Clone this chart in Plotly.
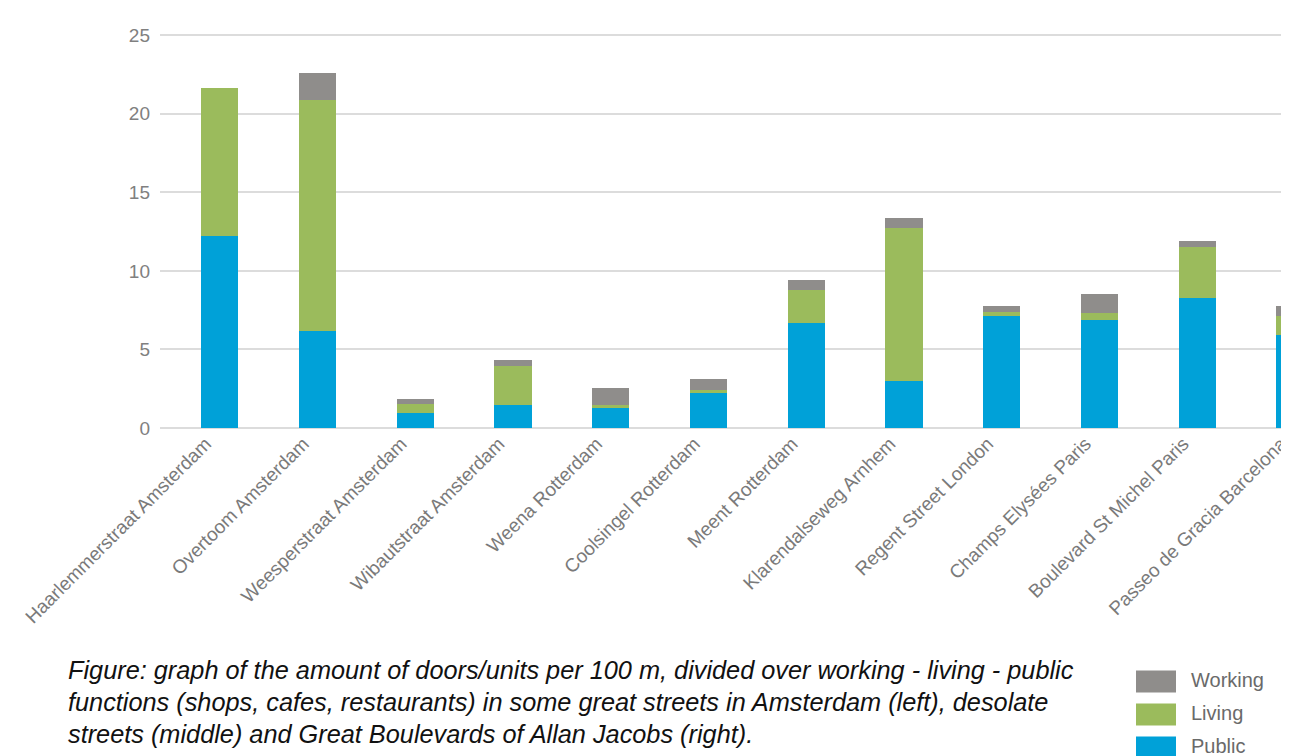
import plotly.graph_objects as go

streets = [
    "Haarlemmerstraat Amsterdam",
    "Overtoom Amsterdam",
    "Weesperstraat Amsterdam",
    "Wibautstraat Amsterdam",
    "Weena Rotterdam",
    "Coolsingel Rotterdam",
    "Meent Rotterdam",
    "Klarendalseweg Arnhem",
    "Regent Street London",
    "Champs Elysées Paris",
    "Boulevard St Michel Paris",
    "Passeo de Gracia Barcelona",
]
public = [12.25, 6.2, 0.95, 1.45, 1.3, 2.25, 6.7, 3.0, 7.1, 6.9, 8.25, 5.95]
living = [9.4, 14.7, 0.6, 2.5, 0.15, 0.15, 2.1, 9.75, 0.3, 0.45, 3.25, 1.2]
working = [0.0, 1.7, 0.3, 0.4, 1.1, 0.75, 0.6, 0.6, 0.35, 1.15, 0.4, 0.6]

series_names = ["Public", "Living", "Working"]
series_values = [public, living, working]
series_colors = ["#00A1D8", "#9BBB5C", "#8F8D8B"]

yticks = [0, 5, 10, 15, 20, 25]

caption_lines = [
    "Figure: graph of the amount of doors/units per 100 m, divided over working - living - public",
    "functions (shops, cafes, restaurants) in some great streets in Amsterdam (left), desolate",
    "streets (middle) and Great Boulevards of Allan Jacobs (right).",
]

W, H = 1289, 756
L, R, T, B = 152, 0, 24.4, 335.5
plot_w = W - L - R
plot_h = H - T - B


def px_to_paper_x(px):
    return (px - L) / plot_w


def py_to_paper_y(py):
    return (H - B - py) / plot_h


fig = go.Figure()
for name, vals, col in zip(series_names, series_values, series_colors):
    fig.add_trace(go.Bar(x=streets, y=vals, name=name, marker_color=col,
                         marker_line_width=0, showlegend=False))

annotations = []
for i, line in enumerate(caption_lines):
    annotations.append(dict(
        text=line, xref="paper", yref="paper",
        x=px_to_paper_x(58), y=py_to_paper_y(663 + 32 * i),
        xanchor="left", yanchor="middle", showarrow=False, align="left",
        font=dict(family="Liberation Sans, Arial, sans-serif", size=25.3,
                  color="#111111", style="italic"),
    ))

# legend (Working on top, Public at bottom)
shapes = []
legend_rows = [663, 696, 729]
for row_y, name, col in zip(legend_rows, series_names[::-1], series_colors[::-1]):
    shapes.append(dict(
        type="rect", xref="paper", yref="paper",
        x0=px_to_paper_x(1128), x1=px_to_paper_x(1168),
        y0=py_to_paper_y(row_y), y1=py_to_paper_y(row_y + 22),
        fillcolor=col, line_width=0, layer="above",
    ))
    annotations.append(dict(
        text=name, xref="paper", yref="paper",
        x=px_to_paper_x(1181), y=py_to_paper_y(row_y + 10),
        xanchor="left", yanchor="middle", showarrow=False,
        font=dict(family="Liberation Sans, Arial, sans-serif", size=20, color="#6A6A6A"),
    ))

fig.update_layout(
    width=W, height=H,
    margin=dict(l=L, r=R, t=T, b=B, autoexpand=False),
    barmode="stack",
    bargap=0.62,
    plot_bgcolor="white",
    paper_bgcolor="white",
    font=dict(family="Liberation Sans, Arial, sans-serif", color="#777777"),
    xaxis=dict(
        range=[-0.61, 11.02],
        tickangle=-45,
        tickfont=dict(size=19, color="#7A7A7A"),
        ticklabelshift=-14,
        showgrid=False,
        showline=False,
        ticks="",
        fixedrange=True,
    ),
    yaxis=dict(
        range=[0, 25.2],
        tickvals=yticks,
        tickfont=dict(size=19, color="#808080"),
        showgrid=True,
        gridcolor="#DCDCDC",
        gridwidth=2,
        zeroline=True,
        zerolinecolor="#DCDCDC",
        zerolinewidth=2,
        ticklabelstandoff=9,
        fixedrange=True,
    ),
    shapes=shapes,
    annotations=annotations,
)

fig.write_html("out.html")
